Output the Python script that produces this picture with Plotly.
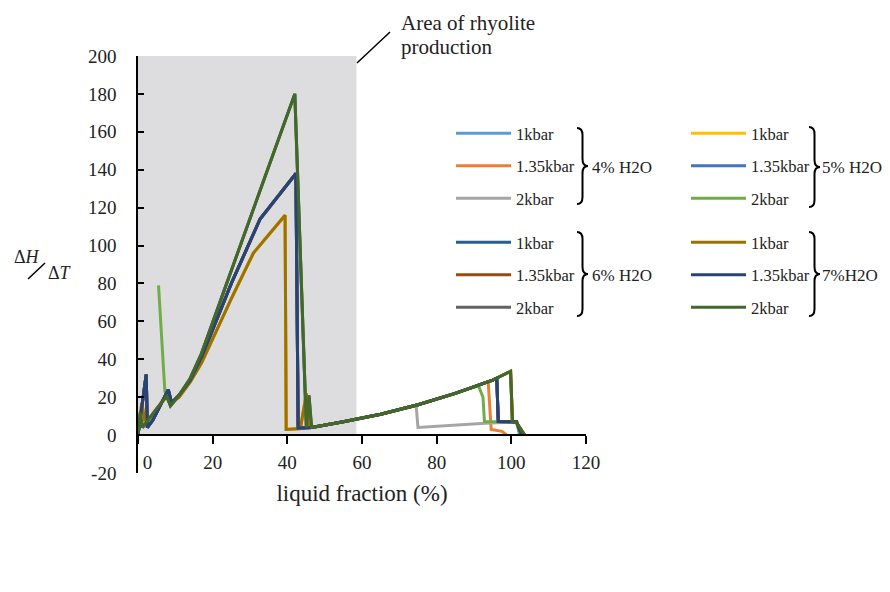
import plotly.graph_objects as go

FONT = "Liberation Serif"

# ---------------- data (liquid fraction %, dH/dT) ----------------
# 4% H2O
x_4_1k = [0, 2.2, 2.5, 4, 8.1, 9, 11, 14, 17, 25, 32.7, 42.3, 42.9, 46.5, 55, 65, 75, 85, 95, 96.1, 96.5, 101.4, 102.8]
y_4_1k = [0, 32, 4, 8, 24, 17, 21, 29, 41, 80, 114, 138, 3.7, 4, 7, 11, 16, 22, 29, 30, 7.2, 7, 0]
x_4_135k = [0, 1, 1.8, 4, 7.5, 8.6, 11, 14, 17, 25, 30.9, 39.4, 39.7, 43.5, 45.1, 45.7, 46.5, 55, 65, 75, 85, 93.8, 94.6, 97.5, 98.8]
y_4_135k = [0, 17, 8, 10, 21, 16.5, 20, 28, 38, 72, 96, 116, 3, 3.5, 22, 4, 4, 7, 11, 16, 22, 28.2, 3, 2, 0]
x_4_2k = [0, 2.2, 2.5, 4, 8.1, 9, 11, 14, 17, 25, 32.7, 42.3, 42.9, 46.5, 55, 65, 74.5, 75, 93, 101.4, 102.5]
y_4_2k = [0, 32, 4, 8, 24, 17, 21, 29, 41, 80, 114, 138, 3.7, 4, 7, 11, 15.5, 4, 6.2, 7, 0]
# 5% H2O
x_5_1k = [0, 1, 1.8, 4, 7.5, 8.6, 11, 14, 17, 25, 30.9, 39.4, 39.7, 43.5, 45.1, 45.7, 46.5, 55, 65, 75, 85, 95, 99.8, 100.3, 101.4, 102.8, 103.6]
y_5_1k = [0, 17, 8, 10, 21, 16.5, 20, 28, 38, 72, 96, 116, 3, 3.5, 22, 4, 4, 7, 11, 16, 22, 29, 33.6, 7, 6.5, 2, 0]
x_5_135k = [0, 2.2, 2.5, 4, 8.1, 9, 11, 14, 17, 25, 32.7, 42.3, 42.9, 46.5, 55, 65, 75, 85, 95, 96.1, 96.5, 101.4, 102.8]
y_5_135k = [0, 32, 4, 8, 24, 17, 21, 29, 41, 80, 114, 138, 3.7, 4, 7, 11, 16, 22, 29, 30, 7.2, 7, 0]
x_5_2k = [5.5, 7.2, 8.7, 11, 14, 17, 25, 33, 42, 45.1, 46.5, 55, 65, 75, 85, 91.2, 92.4, 92.8, 101.4, 102.2]
y_5_2k = [79, 23, 15.5, 21, 30, 43, 86.8, 130.7, 180, 4, 4, 7, 11, 16, 22, 26, 20, 7.2, 7, 0]
# 6% H2O
x_6_1k = [0, 2.2, 2.5, 4, 8.1, 9, 11, 14, 17, 25, 32.7, 42.3, 42.9, 46.5, 55, 65, 75, 85, 95, 96.1, 96.5, 101.4, 102.8]
y_6_1k = [0, 32, 4, 8, 24, 17, 21, 29, 41, 80, 114, 138, 3.7, 4, 7, 11, 16, 22, 29, 30, 7.2, 7, 0]
x_6_135k = [0, 2.2, 2.5, 4, 8.1, 9, 11, 14, 17, 25, 32.7, 42.3, 42.9, 46.5, 55, 65, 75, 85, 95, 96.1, 96.5, 101.4, 102.8]
y_6_135k = [0, 32, 4, 8, 24, 17, 21, 29, 41, 80, 114, 138, 3.7, 4, 7, 11, 16, 22, 29, 30, 7.2, 7, 0]
x_6_2k = [0, 0.6, 1.2, 3, 5, 7.7, 8.7, 11, 14, 17, 25, 33, 42, 45.1, 45.8, 46.5, 55, 65, 75, 85, 95, 99.8, 100.3, 101.4, 102.8, 103.6]
y_6_2k = [0, 12, 4, 9, 14, 20.5, 15.5, 21, 30, 43, 86.8, 130.7, 180, 4, 21, 4, 7, 11, 16, 22, 29, 33.6, 7, 6.5, 2, 0]
# 7% H2O
x_7_1k = [0, 1, 1.8, 4, 7.5, 8.6, 11, 14, 17, 25, 30.9, 39.4, 39.7, 43.5, 45.1, 45.7, 46.5, 55, 65, 75, 85, 95, 99.8, 100.3, 101.4, 102.8, 103.6]
y_7_1k = [0, 17, 8, 10, 21, 16.5, 20, 28, 38, 72, 96, 116, 3, 3.5, 22, 4, 4, 7, 11, 16, 22, 29, 33.6, 7, 6.5, 2, 0]
x_7_135k = [0, 2.2, 2.5, 4, 8.1, 9, 11, 14, 17, 25, 32.7, 42.3, 42.9, 46.5, 55, 65, 75, 85, 95, 96.1, 96.5, 101.4, 102.8]
y_7_135k = [0, 32, 4, 8, 24, 17, 21, 29, 41, 80, 114, 138, 3.7, 4, 7, 11, 16, 22, 29, 30, 7.2, 7, 0]
x_7_2k = [0, 0.6, 1.2, 3, 5, 7.7, 8.7, 11, 14, 17, 25, 33, 42, 45.1, 45.8, 46.5, 55, 65, 75, 85, 95, 99.8, 100.3, 101.4, 102.8, 103.6]
y_7_2k = [0, 12, 4, 9, 14, 20.5, 15.5, 21, 30, 43, 86.8, 130.7, 180, 4, 21, 4, 7, 11, 16, 22, 29, 33.6, 7, 6.5, 2, 0]

pressure_labels = ["1kbar", "1.35kbar", "2kbar"]
group_labels = ["4% H2O", "5% H2O", "6% H2O", "7%H2O"]
x_ticks = [0, 20, 40, 60, 80, 100, 120]
x_tick_text = ["\u2002\u20020", "20", "40", "60", "80", "100", "120"]
y_ticks = [-20, 0, 20, 40, 60, 80, 100, 120, 140, 160, 180, 200]
y_tick_text = ["-20", "0", "20", "40", "60", "80", "100", "120", "140", "160", "180", "200"]
rhyolite_area = [0, 58.5]  # liquid-fraction span of the shaded area

colors = {
    "4": ["#5B9BD5", "#ED7D31", "#A5A5A5"],
    "5": ["#FFC000", "#4472C4", "#70AD47"],
    "6": ["#255E91", "#9E480E", "#636363"],
    "7": ["#997300", "#264478", "#43682B"],
}
data = {
    "4": [(x_4_1k, y_4_1k), (x_4_135k, y_4_135k), (x_4_2k, y_4_2k)],
    "5": [(x_5_1k, y_5_1k), (x_5_135k, y_5_135k), (x_5_2k, y_5_2k)],
    "6": [(x_6_1k, y_6_1k), (x_6_135k, y_6_135k), (x_6_2k, y_6_2k)],
    "7": [(x_7_1k, y_7_1k), (x_7_135k, y_7_135k), (x_7_2k, y_7_2k)],
}
legend_ids = {"4": "legend", "5": "legend2", "6": "legend3", "7": "legend4"}

# ---------------- screen-pixel -> paper helpers (layout only) ----------------
OFF = 8  # page body margin
W, H = 890 - 2 * OFF, 560
L, R, T, B = 138, 586, 56, 473   # plot area in screen pixels
def px(xp):
    return (xp - L) / (R - L)
def py(yp):
    return (B - yp) / (B - T)

fig = go.Figure()
for g in ["4", "5", "6", "7"]:
    for i, (xs, ys) in enumerate(data[g]):
        fig.add_trace(go.Scatter(
            x=xs, y=ys, mode="lines", name=pressure_labels[i],
            line=dict(color=colors[g][i], width=3),
            legend=legend_ids[g], legendgroup=f"g{g}_{i}",
        ))

shapes = [
    dict(type="rect", xref="x", yref="y", x0=rhyolite_area[0], x1=rhyolite_area[1], y0=0, y1=200,
         fillcolor="#DDDCDE", line=dict(width=0), layer="below"),
    dict(type="line", xref="paper", yref="paper", x0=px(357), y0=py(63), x1=px(390), y1=py(32),
         line=dict(color="black", width=1.5)),
    dict(type="line", xref="paper", yref="paper", x0=px(28), y0=py(279), x1=px(45), y1=py(263),
         line=dict(color="black", width=1.5)),
]

def brace(x0, ytop, ybot, w):
    xm = x0 + w * 0.5
    xt = x0 + w
    ym = (ytop + ybot) / 2
    r = 7
    pts = [
        f"M{px(x0)},{py(ytop)}",
        f"Q{px(xm)},{py(ytop)} {px(xm)},{py(ytop + r)}",
        f"L{px(xm)},{py(ym - r)}",
        f"Q{px(xm)},{py(ym)} {px(xt)},{py(ym)}",
        f"Q{px(xm)},{py(ym)} {px(xm)},{py(ym + r)}",
        f"L{px(xm)},{py(ybot - r)}",
        f"Q{px(xm)},{py(ybot)} {px(x0)},{py(ybot)}",
    ]
    return dict(type="path", xref="paper", yref="paper", path=" ".join(pts),
                line=dict(color="black", width=2))

shapes += [brace(577, 128, 204, 11), brace(809, 127, 207, 11),
           brace(577, 232, 316, 11), brace(809, 232, 316, 11)]

txt_font = dict(size=21, family=FONT, color="#222")
annotations = [
    dict(text="Area of rhyolite", x=px(399), y=py(OFF + 1), xref="paper", yref="paper",
         xanchor="left", yanchor="top", showarrow=False, font=txt_font),
    dict(text="production", x=px(399), y=py(33), xref="paper", yref="paper",
         xanchor="left", yanchor="top", showarrow=False, font=txt_font),
    dict(text="\u0394<i>H</i>", x=px(12), y=py(257), xref="paper", yref="paper",
         xanchor="left", yanchor="middle", showarrow=False, font=dict(size=18, family=FONT, color="#222")),
    dict(text="\u0394<i>T</i>", x=px(46), y=py(273), xref="paper", yref="paper",
         xanchor="left", yanchor="middle", showarrow=False, font=dict(size=18, family=FONT, color="#222")),
]
group_pos = [(590, 167), (820, 167), (590, 275), (820, 275)]
for lab, (gx, gy) in zip(group_labels, group_pos):
    annotations.append(dict(text=lab, x=px(gx), y=py(gy), xref="paper", yref="paper",
                            xanchor="left", yanchor="middle", showarrow=False,
                            font=dict(size=17, family=FONT, color="#222")))

leg_common = dict(bgcolor="rgba(0,0,0,0)", borderwidth=0, xanchor="left", yanchor="top",
                  itemwidth=55, tracegroupgap=8, traceorder="grouped",
                  font=dict(size=16.5, family=FONT, color="#222"))

fig.update_layout(
    width=W, height=H,
    margin=dict(l=L - OFF, r=W - (R - OFF), t=T - OFF, b=H - (B - OFF), autoexpand=False),
    paper_bgcolor="white", plot_bgcolor="white",
    font=dict(family=FONT, size=19, color="#222"),
    showlegend=True,
    legend=dict(x=px(451), y=py(116), **leg_common),
    legend2=dict(x=px(686), y=py(116), **leg_common),
    legend3=dict(x=px(451), y=py(225), **leg_common),
    legend4=dict(x=px(686), y=py(225), **leg_common),
    xaxis=dict(range=[0, 120], tickvals=x_ticks, ticktext=x_tick_text,
               anchor="free", position=20 / 220,
               showline=True, linecolor="black", linewidth=1.5,
               ticks="outside", ticklen=8, tickwidth=1.5, tickcolor="black",
               showgrid=False, zeroline=False, ticklabelstandoff=2,
               tickfont=dict(size=19, family=FONT, color="#222"),
               title=dict(text="liquid fraction (%)", font=dict(size=23, family=FONT, color="#222"), standoff=12)),
    yaxis=dict(range=[-20, 200], tickvals=y_ticks, ticktext=y_tick_text,
               showline=True, linecolor="black", linewidth=1.5,
               ticks="inside", ticklen=6, tickwidth=1.5, tickcolor="black",
               showgrid=False, zeroline=False, ticklabelstandoff=16,
               tickfont=dict(size=19, family=FONT, color="#222")),
    shapes=shapes,
    annotations=annotations,
)

fig.write_html("out.html",
               post_script="document.documentElement.style.overflow='hidden';document.body.style.overflow='hidden';")
